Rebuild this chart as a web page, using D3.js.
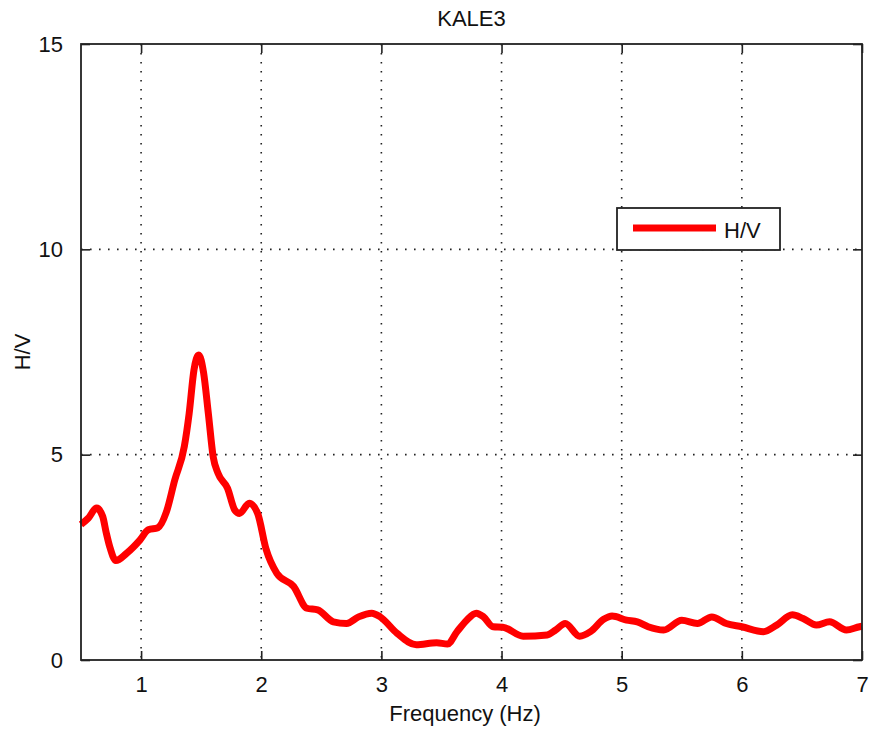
<!DOCTYPE html>
<html>
<head>
<meta charset="utf-8">
<script src="https://cdn.jsdelivr.net/npm/d3@7"></script>
<style>
  body { margin: 0; background: #fff; }
  text { font-family: "Liberation Sans", Arial, sans-serif; fill: #111; }
</style>
</head>
<body>
<div id="chart"></div>
<script>
// H/V spectral ratio
const freq = [0.50, 0.56, 0.63, 0.68, 0.71, 0.74, 0.79, 0.88, 0.99, 1.06, 1.14, 1.21, 1.28, 1.36, 1.40,
  1.44, 1.48, 1.52, 1.56, 1.60, 1.64, 1.72, 1.78, 1.82, 1.90, 1.97, 2.04, 2.13, 2.27, 2.38,
  2.47, 2.60, 2.71, 2.81, 2.92, 2.99, 3.13, 3.29, 3.46, 3.55, 3.63, 3.71, 3.79, 3.85, 3.93,
  4.01, 4.18, 4.38, 4.45, 4.53, 4.65, 4.74, 4.85, 4.92, 5.04, 5.13, 5.22, 5.35, 5.50, 5.63,
  5.75, 5.87, 6.00, 6.18, 6.29, 6.42, 6.51, 6.62, 6.73, 6.87, 6.98, 7.00];
const hv = [3.30, 3.45, 3.70, 3.50, 3.10, 2.75, 2.42, 2.60, 2.92, 3.17, 3.22, 3.60, 4.38, 5.20, 6.00,
  7.06, 7.43, 7.00, 6.00, 4.95, 4.55, 4.18, 3.65, 3.57, 3.82, 3.57, 2.70, 2.11, 1.79, 1.26,
  1.22, 0.93, 0.89, 1.05, 1.14, 1.05, 0.65, 0.37, 0.42, 0.39, 0.69, 0.97, 1.14, 1.05, 0.81,
  0.80, 0.58, 0.61, 0.73, 0.89, 0.58, 0.69, 0.99, 1.07, 0.97, 0.93, 0.81, 0.73, 0.97, 0.89,
  1.05, 0.89, 0.81, 0.69, 0.85, 1.10, 1.01, 0.85, 0.93, 0.73, 0.81, 0.82];
const xTicks = [1, 2, 3, 4, 5, 6, 7];
const yTicks = [0, 5, 10, 15];
const title = "KALE3";
const seriesName = "H/V";

const width = 869, height = 736;
const margin = {top: 44, right: 7, bottom: 76, left: 81};
const w = width - margin.left - margin.right;
const h = height - margin.top - margin.bottom;

const svg = d3.select("#chart").append("svg")
    .attr("width", width)
    .attr("height", height);
const g = svg.append("g")
    .attr("transform", "translate(" + margin.left + "," + margin.top + ")");

const x = d3.scaleLinear().domain([0.5, 7]).range([0, w]);
const y = d3.scaleLinear().domain([0, 15]).range([h, 0]);

// dotted grid
g.selectAll(".vgrid").data(xTicks.filter(t => t < 7)).enter().append("line")
    .attr("x1", d => x(d)).attr("x2", d => x(d))
    .attr("y1", 0).attr("y2", h)
    .style("stroke", "#222").style("stroke-width", 1.6)
    .style("stroke-dasharray", "1.6,7.4");
g.selectAll(".hgrid").data(yTicks.filter(t => t > 0 && t < 15)).enter().append("line")
    .attr("y1", d => y(d)).attr("y2", d => y(d))
    .attr("x1", 0).attr("x2", w)
    .style("stroke", "#222").style("stroke-width", 1.6)
    .style("stroke-dasharray", "1.6,7.4");

// the curve
const pts = freq.map((f, i) => [f, hv[i]]);
g.append("path")
    .datum(pts)
    .attr("d", d3.line().x(d => x(d[0])).y(d => y(d[1])).curve(d3.curveMonotoneX))
    .style("fill", "none")
    .style("stroke", "#ff0000")
    .style("stroke-width", 7)
    .style("stroke-linejoin", "round");

// axes, ticks inward on all four sides
const tickLen = 9;
const fontSize = "22px";
const axB = g.append("g").attr("transform", "translate(0," + h + ")")
    .call(d3.axisBottom(x).tickValues(xTicks).tickSize(-tickLen).tickPadding(tickLen + 12).tickFormat(d3.format("d")));
const axL = g.append("g")
    .call(d3.axisLeft(y).tickValues(yTicks).tickSize(-tickLen).tickPadding(tickLen + 9).tickFormat(d3.format("d")));
const axT = g.append("g")
    .call(d3.axisTop(x).tickValues(xTicks).tickSize(-tickLen).tickFormat(""));
const axR = g.append("g").attr("transform", "translate(" + w + ",0)")
    .call(d3.axisRight(y).tickValues(yTicks).tickSize(-tickLen).tickFormat(""));
[axB, axL, axT, axR].forEach(a => {
    a.select(".domain").remove();
    a.selectAll("line").style("stroke", "#222").style("stroke-width", 1.6);
    a.selectAll("text").style("font-size", fontSize)
        .style("font-family", "Liberation Sans, Arial, sans-serif").style("fill", "#111");
});
axB.selectAll("text").attr("dy", "0.5em");

// frame
g.append("rect")
    .attr("width", w).attr("height", h)
    .style("fill", "none").style("stroke", "#222").style("stroke-width", 1.8);

// titles
svg.append("text")
    .attr("x", margin.left + w / 2).attr("y", 26)
    .attr("text-anchor", "middle")
    .style("font-size", fontSize)
    .text(title);
svg.append("text")
    .attr("x", 465).attr("y", 721)
    .attr("text-anchor", "middle")
    .style("font-size", fontSize)
    .text("Frequency (Hz)");
svg.append("text")
    .attr("transform", "translate(30," + (margin.top + h / 2) + ") rotate(-90)")
    .attr("text-anchor", "middle")
    .style("font-size", fontSize)
    .text("H/V");

// legend
const lg = svg.append("g").attr("transform", "translate(617,208)");
lg.append("rect")
    .attr("width", 163).attr("height", 42)
    .style("fill", "#fff").style("stroke", "#222").style("stroke-width", 1.8);
lg.append("line")
    .attr("x1", 16).attr("x2", 99).attr("y1", 20).attr("y2", 20)
    .style("stroke", "#ff0000").style("stroke-width", 7);
lg.append("text")
    .attr("x", 107).attr("y", 30)
    .style("font-size", fontSize)
    .text(seriesName);
</script>
</body>
</html>
